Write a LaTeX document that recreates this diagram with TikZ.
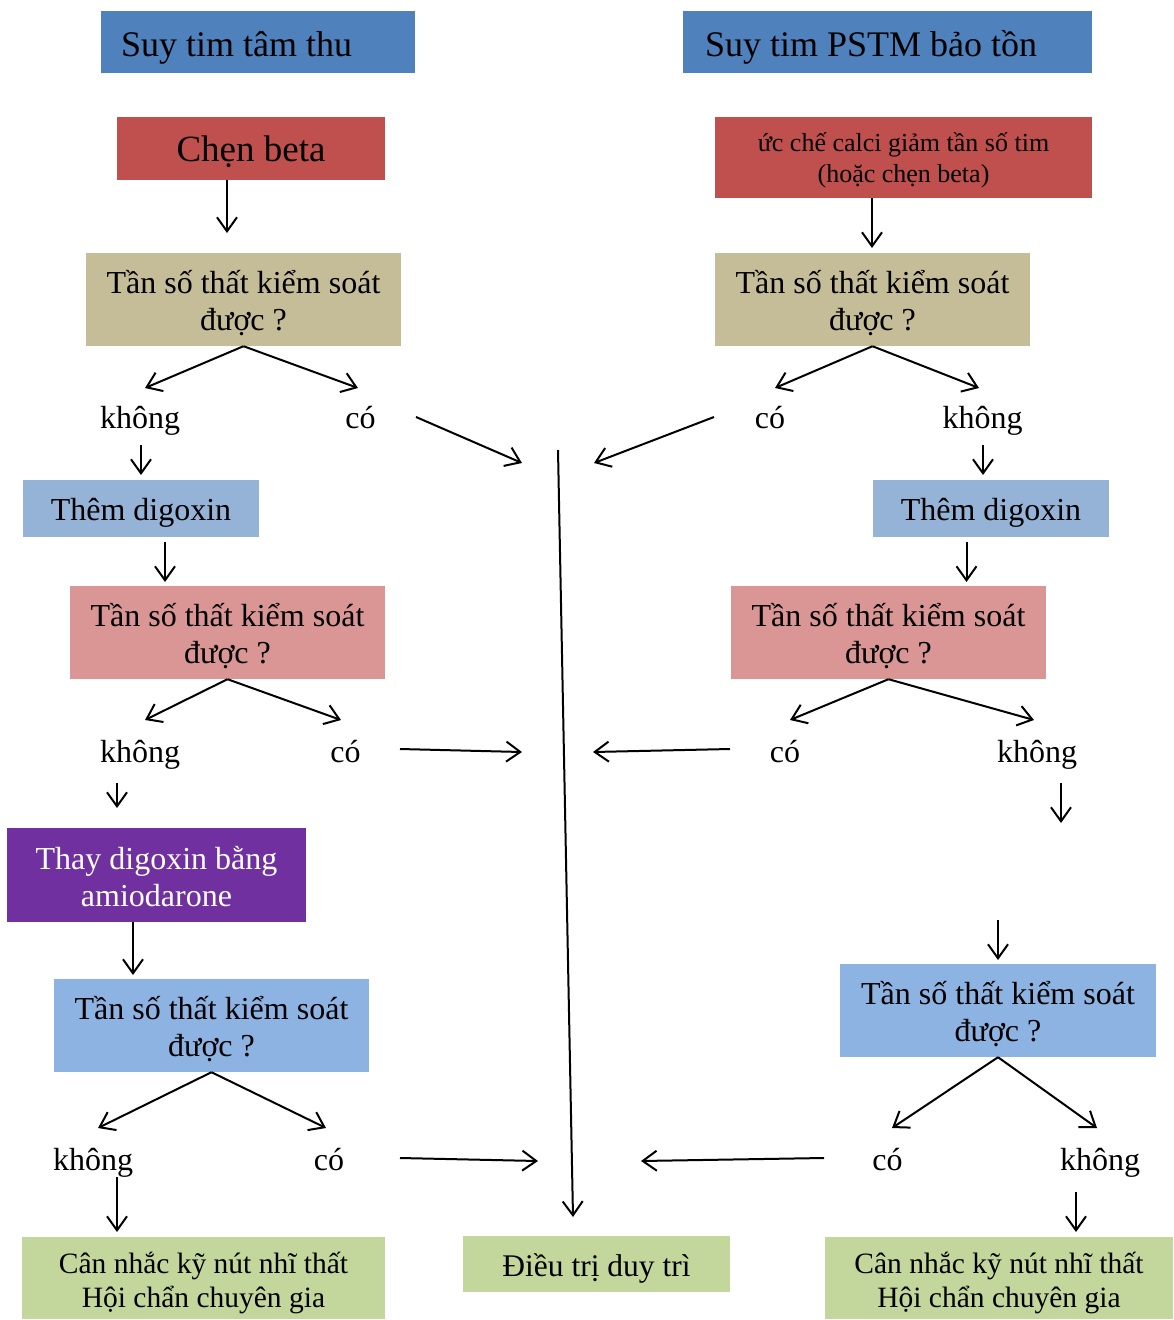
\documentclass[tikz,border=0pt]{standalone}
\usepackage{fontspec}
\setmainfont{Liberation Serif}
\usetikzlibrary{arrows.meta}
\definecolor{hdrblue}{HTML}{4F81BD}
\definecolor{drugred}{HTML}{C0504D}
\definecolor{khaki}{HTML}{C4BD97}
\definecolor{softblue}{HTML}{95B3D7}
\definecolor{rose}{HTML}{D99694}
\definecolor{violet}{HTML}{7030A0}
\definecolor{skyblue}{HTML}{8DB3E2}
\definecolor{leaf}{HTML}{C3D69B}
\begin{document}
\begin{tikzpicture}[x=1pt,y=-1pt,
  panel/.style={inner sep=0pt,draw=none},
  txt/.style={inner sep=0pt,align=center,font=\fontsize{32}{37}\selectfont},
  bigtxt/.style={txt,font=\fontsize{36}{41}\selectfont},
  smalltxt/.style={txt,font=\fontsize{26}{31}\selectfont},
  endtxt/.style={txt,font=\fontsize{29.5}{34}\selectfont},
  question/.style={panel,minimum width=315,minimum height=93},
  lbl/.style={anchor=base,inner sep=0pt,font=\fontsize{32}{37}\selectfont},
  arr/.style={line width=2pt,-{Straight Barb[length=14pt,width=20pt]}}]
\useasboundingbox (0,0) rectangle (1173,1320);

% ---- coloured panels
\node[panel,fill=hdrblue,minimum width=314,minimum height=62] (hL) at (258,42) {};
\node[panel,fill=hdrblue,minimum width=409,minimum height=62] (hR) at (887.5,42) {};
\node[panel,fill=drugred,minimum width=268,minimum height=63] (cb) at (251,148.5) {};
\node[panel,fill=drugred,minimum width=377,minimum height=81] (uc) at (903.5,157.5) {};
\node[question,fill=khaki] (q1L) at (243.5,299.5) {};
\node[question,fill=khaki] (q1R) at (872.5,299.5) {};
\node[panel,fill=softblue,minimum width=236,minimum height=57] (dgL) at (141,508.5) {};
\node[panel,fill=softblue,minimum width=236,minimum height=57] (dgR) at (991,508.5) {};
\node[question,fill=rose] (q2L) at (227.5,632.5) {};
\node[question,fill=rose] (q2R) at (888.5,632.5) {};
\node[panel,fill=violet,minimum width=299,minimum height=94] (am) at (156.5,875) {};
\node[question,fill=skyblue] (q3L) at (211.5,1025.5) {};
\node[question,fill=skyblue,minimum width=316] (q3R) at (998,1010.5) {};
\node[panel,fill=leaf,minimum width=363,minimum height=82] (gL) at (203.5,1278) {};
\node[panel,fill=leaf,minimum width=267,minimum height=56] (gM) at (596.5,1264) {};
\node[panel,fill=leaf,minimum width=348,minimum height=82] (gR) at (999,1278) {};

% ---- panel texts
\node[bigtxt,anchor=base west] (hLt) at ([xshift=20pt,yshift=-14.5pt]hL.west) {Suy tim tâm thu};
\node[bigtxt,anchor=base west] (hRt) at ([xshift=22pt,yshift=-14.5pt]hR.west) {Suy tim PSTM bảo tồn};
\node[bigtxt,font=\fontsize{37}{42}\selectfont] (cbt) at ([yshift=-3pt]cb.center) {Chẹn beta};
\node[smalltxt] (uct) at ([yshift=-3pt]uc.center) {ức chế calci giảm tần số tim\\(hoặc chẹn beta)};
\node[txt] (q1Lt) at ([yshift=-4pt]q1L.center) {Tần số thất kiểm soát\\được ?};
\node[txt] (q1Rt) at ([yshift=-4pt]q1R.center) {Tần số thất kiểm soát\\được ?};
\node[txt] (dgLt) at ([yshift=-4pt]dgL.center) {Thêm digoxin};
\node[txt] (dgRt) at ([yshift=-4pt]dgR.center) {Thêm digoxin};
\node[txt] (q2Lt) at ([yshift=-4pt]q2L.center) {Tần số thất kiểm soát\\được ?};
\node[txt] (q2Rt) at ([yshift=-4pt]q2R.center) {Tần số thất kiểm soát\\được ?};
\node[txt,text=white] (amt) at ([yshift=-1.5pt]am.center) {Thay digoxin bằng\\amiodarone};
\node[txt] (q3Lt) at ([yshift=-4pt]q3L.center) {Tần số thất kiểm soát\\được ?};
\node[txt] (q3Rt) at ([yshift=-4pt]q3R.center) {Tần số thất kiểm soát\\được ?};
\node[endtxt] (gLt) at ([yshift=-5pt]gL.center) {Cân nhắc kỹ nút nhĩ thất\\Hội chẩn chuyên gia};
\node[txt,font=\fontsize{31.5}{36}\selectfont] (gMt) at ([yshift=-4pt]gM.center) {Điều trị duy trì};
\node[endtxt] (gRt) at ([yshift=-5pt]gR.center) {Cân nhắc kỹ nút nhĩ thất\\Hội chẩn chuyên gia};

% ---- answer labels
\node[lbl] (k1L) at (140,428) {không};
\node[lbl] (c1L) at (360.5,428) {có};
\node[lbl] (c1R) at (770,428) {có};
\node[lbl] (k1R) at (982.5,428) {không};
\node[lbl] (k2L) at (140,762) {không};
\node[lbl] (c2L) at (345.5,762) {có};
\node[lbl] (c2R) at (785,762) {có};
\node[lbl] (k2R) at (1037,762) {không};
\node[lbl] (k3L) at (93,1170) {không};
\node[lbl] (c3L) at (329,1170) {có};
\node[lbl] (c3R) at (887.5,1170) {có};
\node[lbl] (k3R) at (1100,1170) {không};

% ---- arrow end points
\coordinate (a1) at (227,233);
\coordinate (a2) at (872,248);
\coordinate (b1l) at (145,388);  \coordinate (b1r) at (358,388);
\coordinate (b2l) at (775,388);  \coordinate (b2r) at (979,388);
\coordinate (s1L) at (416,417);  \coordinate (e1L) at (522,463);
\coordinate (s1R) at (714,417);  \coordinate (e1R) at (594,463);
\coordinate (d1Ls) at (141,445); \coordinate (d1Le) at (141,475);
\coordinate (d1Rs) at (983,445); \coordinate (d1Re) at (983,475);
\coordinate (g1s) at (165,542);  \coordinate (g1) at (165,582);
\coordinate (g2s) at (966.5,542); \coordinate (g2) at (966.5,582);
\coordinate (b3l) at (145,720);  \coordinate (b3r) at (341,720);
\coordinate (b4l) at (790,720);  \coordinate (b4r) at (1034,720);
\coordinate (s2L) at (400,749);  \coordinate (e2L) at (522,752);
\coordinate (s2R) at (730,749);  \coordinate (e2R) at (593,752);
\coordinate (d2Ls) at (117,783); \coordinate (d2Le) at (117,808);
\coordinate (d2Rs) at (1061,783); \coordinate (d2Re) at (1061,823);
\coordinate (m1) at (133,975);
\coordinate (d3s) at (998,920);  \coordinate (d3e) at (998,960);
\coordinate (b5l) at (98,1128);  \coordinate (b5r) at (326,1128);
\coordinate (b6l) at (892,1128); \coordinate (b6r) at (1097,1128);
\coordinate (s3L) at (400,1158); \coordinate (e3L) at (538,1161);
\coordinate (s3R) at (824,1158); \coordinate (e3R) at (641,1161);
\coordinate (d3Ls) at (117,1177); \coordinate (d3Le) at (117,1232);
\coordinate (d3Rs) at (1076,1192); \coordinate (d3Re) at (1076,1232);
\coordinate (vtop) at (558,450);
\coordinate (vend) at (573,1217);

% ---- connectors
\draw[arr] (cb.south -| a1) -- (a1);
\draw[arr] (uc.south -| a2) -- (a2);
\draw[arr] (q1L.south) -- (b1l);
\draw[arr] (q1L.south) -- (b1r);
\draw[arr] (q1R.south) -- (b2l);
\draw[arr] (q1R.south) -- (b2r);
\draw[arr] (s1L) -- (e1L);
\draw[arr] (s1R) -- (e1R);
\draw[arr] (d1Ls) -- (d1Le);
\draw[arr] (d1Rs) -- (d1Re);
\draw[arr] (g1s) -- (g1);
\draw[arr] (g2s) -- (g2);
\draw[arr] (q2L.south) -- (b3l);
\draw[arr] (q2L.south) -- (b3r);
\draw[arr] (q2R.south) -- (b4l);
\draw[arr] (q2R.south) -- (b4r);
\draw[arr] (s2L) -- (e2L);
\draw[arr] (s2R) -- (e2R);
\draw[arr] (d2Ls) -- (d2Le);
\draw[arr] (d2Rs) -- (d2Re);
\draw[arr] (am.south -| m1) -- (m1);
\draw[arr] (d3s) -- (d3e);
\draw[arr] (q3L.south) -- (b5l);
\draw[arr] (q3L.south) -- (b5r);
\draw[arr] (q3R.south) -- (b6l);
\draw[arr] (q3R.south) -- (b6r);
\draw[arr] (s3L) -- (e3L);
\draw[arr] (s3R) -- (e3R);
\draw[arr] (d3Ls) -- (d3Le);
\draw[arr] (d3Rs) -- (d3Re);
\draw[arr] (vtop) -- (vend);
\end{tikzpicture}
\end{document}
